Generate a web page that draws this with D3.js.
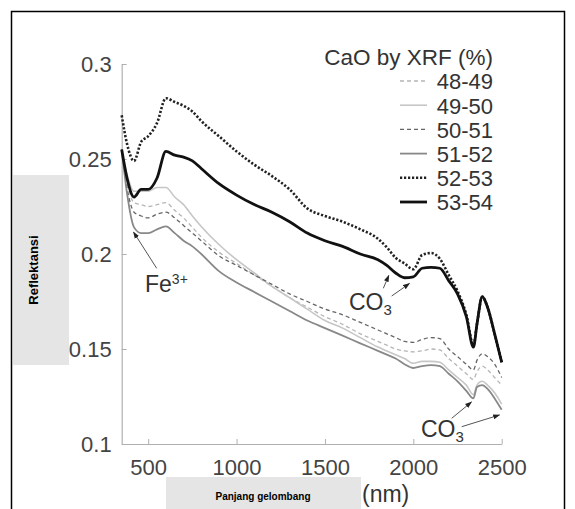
<!DOCTYPE html>
<html><head><meta charset="utf-8">
<script src="https://cdn.jsdelivr.net/npm/d3@7"></script>
<style>body{margin:0;background:#fff;}svg{display:block;}</style>
</head><body>
<svg id="chart" width="575" height="509"></svg>
<script>
const wavelengths = [350,380,420,460,500,550,600,650,700,750,800,900,1000,1100,1200,1300,1400,1500,1600,1700,1800,1850,1900,1950,2000,2050,2100,2150,2200,2250,2300,2340,2360,2390,2420,2460,2500];
const s48_49 = [0.255,0.238,0.227,0.226,0.225,0.226,0.227,0.223,0.219,0.214,0.209,0.201,0.195,0.189,0.183,0.177,0.172,0.167,0.163,0.158,0.154,0.152,0.150,0.149,0.1485,0.149,0.150,0.1495,0.145,0.141,0.137,0.134,0.138,0.141,0.139,0.135,0.131];
const s49_50 = [0.255,0.242,0.233,0.233,0.233,0.235,0.235,0.230,0.226,0.220,0.2145,0.205,0.197,0.190,0.183,0.177,0.171,0.165,0.161,0.156,0.151,0.149,0.147,0.145,0.1425,0.1435,0.1435,0.143,0.139,0.135,0.131,0.126,0.131,0.133,0.131,0.127,0.121];
const s50_51 = [0.255,0.235,0.222,0.220,0.219,0.221,0.222,0.219,0.215,0.211,0.207,0.199,0.194,0.189,0.184,0.179,0.175,0.171,0.168,0.164,0.160,0.158,0.156,0.154,0.1535,0.155,0.156,0.1555,0.150,0.146,0.142,0.139,0.144,0.1475,0.146,0.142,0.135];
const s51_52 = [0.255,0.232,0.214,0.211,0.211,0.213,0.2145,0.211,0.207,0.204,0.200,0.191,0.185,0.180,0.175,0.170,0.165,0.161,0.157,0.153,0.149,0.147,0.145,0.142,0.140,0.141,0.1415,0.141,0.137,0.133,0.128,0.124,0.130,0.131,0.129,0.124,0.118];
const s52_53 = [0.273,0.258,0.249,0.259,0.262,0.269,0.282,0.280,0.278,0.275,0.270,0.262,0.254,0.247,0.241,0.234,0.224,0.220,0.217,0.213,0.208,0.2035,0.198,0.195,0.192,0.1995,0.2005,0.1975,0.189,0.1805,0.168,0.152,0.163,0.1775,0.172,0.158,0.143];
const s53_54 = [0.255,0.240,0.230,0.234,0.234,0.240,0.254,0.252,0.251,0.249,0.245,0.237,0.231,0.226,0.222,0.217,0.211,0.207,0.204,0.200,0.197,0.194,0.190,0.1875,0.188,0.1925,0.193,0.1925,0.186,0.179,0.167,0.151,0.163,0.1775,0.172,0.158,0.143];
const seriesNames = ["48-49","49-50","50-51","51-52","52-53","53-54"];
const seriesValues = [s48_49,s49_50,s50_51,s51_52,s52_53,s53_54];
const xTicks = [500,1000,1500,2000,2500];
const xTickLabels = ["500","1000","1500","2000","2500"];
const yTicks = [0.1,0.15,0.2,0.25,0.3];
const yTickLabels = ["0.1","0.15","0.2","0.25","0.3"];
const legendTitle = "CaO by XRF (%)";
const yLabel = "Reflektansi";
const xLabel = "Panjang gelombang";
const xUnit = "(nm)";

const styles = [
  {stroke:"#b5b5b5", w:1.3, dash:"4,3"},
  {stroke:"#c6c6c6", w:1.6, dash:null},
  {stroke:"#666",    w:1.3, dash:"4,3"},
  {stroke:"#888",    w:1.8, dash:null},
  {stroke:"#222",    w:2.6, dash:"2.2,1.8"},
  {stroke:"#111",    w:2.8, dash:null}
];

const svg = d3.select("#chart");
const font = "'Liberation Sans', Arial, sans-serif";

// outer frame
svg.append("rect").attr("x",11.5).attr("y",11.5).attr("width",553).attr("height",520)
  .attr("fill","none").attr("stroke","#000").attr("stroke-width",1.5);

const x = d3.scaleLinear().domain([350,2500]).range([121.7,501.7]);
const y = d3.scaleLinear().domain([0.1,0.3]).range([444,64]);

// axes
const gx = svg.append("g").attr("transform","translate(0,444)")
  .call(d3.axisBottom(x).tickValues(xTicks).tickFormat((d,i)=>xTickLabels[i]).tickSizeInner(-5).tickSizeOuter(0).tickPadding(15));
const gy = svg.append("g").attr("transform","translate(121.7,0)")
  .call(d3.axisLeft(y).tickValues(yTicks).tickFormat((d,i)=>yTickLabels[i]).tickSizeInner(-5).tickSizeOuter(0).tickPadding(10));
[gx,gy].forEach(g=>{
  g.select(".domain").attr("stroke","#b0b0b0").attr("stroke-width",1.2);
  g.selectAll(".tick line").attr("stroke","#b0b0b0");
  g.selectAll(".tick text").attr("fill","#444").style("font-family",font).style("font-size","22px");
});

// lines
const line = d3.line().x((d,i)=>x(wavelengths[i])).y(d=>y(d)).curve(d3.curveMonotoneX);
seriesValues.forEach((vals,k)=>{
  const st = styles[k];
  svg.append("path").datum(vals).attr("d",line).attr("fill","none")
    .attr("stroke",st.stroke).attr("stroke-width",st.w)
    .attr("stroke-dasharray",st.dash).attr("stroke-linejoin","round");
});

// legend
const legX0 = 400, legX1 = 427, legTextR = 493;
svg.append("text").attr("x",legTextR).attr("y",64.5).attr("text-anchor","end")
  .style("font-family",font).style("font-size","22.5px").attr("fill","#333").text(legendTitle);
seriesNames.forEach((n,k)=>{
  const cy = 81 + k*24.2;
  const st = styles[k];
  svg.append("line").attr("x1",legX0).attr("x2",legX1).attr("y1",cy).attr("y2",cy)
    .attr("stroke",st.stroke).attr("stroke-width",st.w).attr("stroke-dasharray",st.dash);
  svg.append("text").attr("x",legTextR).attr("y",cy+8.3).attr("text-anchor","end")
    .style("font-family",font).style("font-size","22px").attr("fill","#333").text(n);
});

// arrows
const defs = svg.append("defs");
defs.append("marker").attr("id","ah").attr("viewBox","0 0 10 10").attr("refX",9).attr("refY",5)
  .attr("markerWidth",7).attr("markerHeight",7).attr("orient","auto-start-reverse")
  .append("path").attr("d","M0,1.5 L10,5 L0,8.5 Z").attr("fill","#222");
const arrows = [
  [156.7,268.3,133.5,232],
  [383.3,288.3,388.8,275.5],
  [391.7,296,409.5,283.5],
  [451.7,418.3,471.5,402],
  [461.7,426.7,499.5,415]
];
arrows.forEach(a=>{
  svg.append("line").attr("x1",a[0]).attr("y1",a[1]).attr("x2",a[2]).attr("y2",a[3])
    .attr("stroke","#555").attr("stroke-width",1).attr("marker-end","url(#ah)");
});

// annotation texts
function chem(xp,yp,main,sub,sup){
  const t = svg.append("text").attr("x",xp).attr("y",yp).style("font-family",font)
    .style("font-size","23px").attr("fill","#333");
  t.append("tspan").text(main);
  if(sub) t.append("tspan").attr("dy",5).style("font-size","15px").text(sub);
  if(sup) t.append("tspan").attr("dy",-8).style("font-size","14px").text(sup);
}
chem(145,292,"Fe",null,"3+");
chem(349,310,"CO","3",null);
chem(421,437,"CO","3",null);

// gray label boxes
svg.append("rect").attr("x",13).attr("y",175).attr("width",56).attr("height",190).attr("fill","#e5e5e5");
svg.append("text").attr("transform","translate(37.5,270) rotate(-90)").attr("text-anchor","middle")
  .style("font-family",font).style("font-size","13px").style("font-weight","bold").attr("fill","#000").text(yLabel);
svg.append("rect").attr("x",166).attr("y",477).attr("width",195).attr("height",40).attr("fill","#e5e5e5");
svg.append("text").attr("x",263).attr("y",499.5).attr("text-anchor","middle")
  .style("font-family",font).style("font-size","10px").style("font-weight","bold").attr("fill","#000").text(xLabel);
svg.append("text").attr("x",362).attr("y",502).style("font-family",font).style("font-size","23px").attr("fill","#333").text(xUnit);
</script>
</body></html>
